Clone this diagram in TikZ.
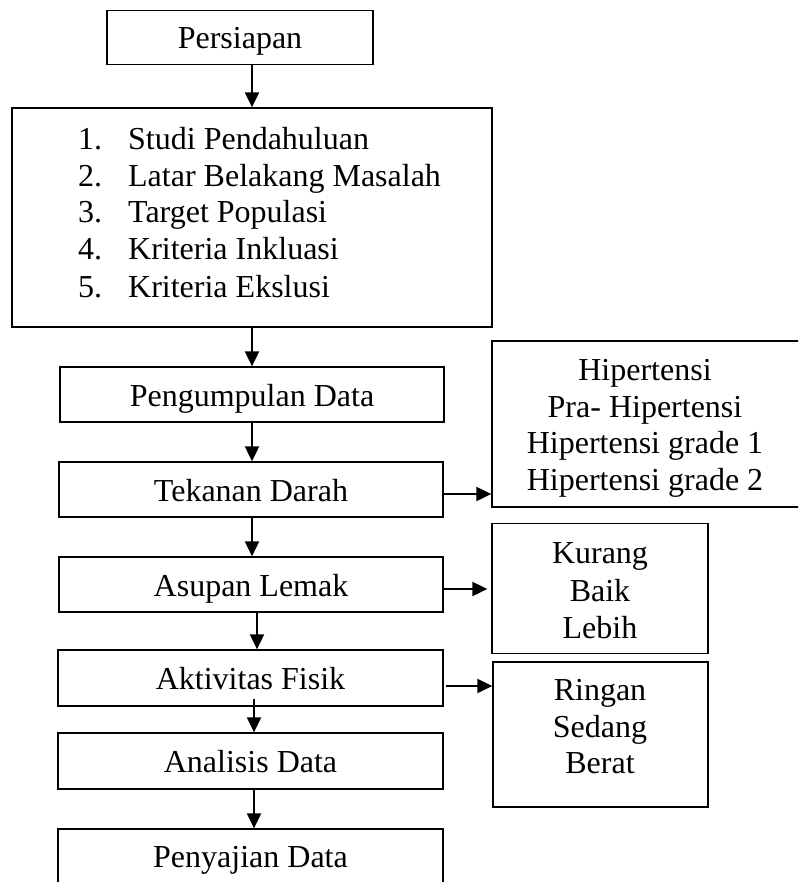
\documentclass[tikz,border=0pt]{standalone}
\usepackage{fontspec}
\setmainfont{Liberation Serif}
\usetikzlibrary{arrows.meta,calc}
\begin{document}
\begin{tikzpicture}[x=1pt,y=-1pt,
  box/.style={draw,line width=1.3pt,rectangle,inner sep=0pt},
  txt/.style={font=\fontsize{32}{36.7}\selectfont,inner sep=0pt},
  onel/.style={box,txt,text height=23pt,text depth=0pt},
  ln/.style={txt,anchor=base},
  arr/.style={line width=2pt,-{Triangle[length=15pt,width=14pt]}}]
\useasboundingbox (0,0) rectangle (798,882);
\begin{scope}
\clip (0,0) rectangle (798,882);
% main column
\node[onel,minimum width=266,minimum height=54] (persiapan) at (240,37.5) {Persiapan};
\node[box,minimum width=480,minimum height=219] (list) at (252,217.5) {};
\node[txt,anchor=base west] (l1) at (78,150) {\makebox[50pt][l]{1.}Studi Pendahuluan};
\node[txt,anchor=base west] (l2) at (78,187) {\makebox[50pt][l]{2.}Latar Belakang Masalah};
\node[txt,anchor=base west] (l3) at (78,223) {\makebox[50pt][l]{3.}Target Populasi};
\node[txt,anchor=base west] (l4) at (78,260) {\makebox[50pt][l]{4.}Kriteria Inkluasi};
\node[txt,anchor=base west] (l5) at (78,297) {\makebox[50pt][l]{5.}Kriteria Ekslusi};
\node[onel,minimum width=384,minimum height=55] (pengumpulan) at (252,394.5) {Pengumpulan Data};
\node[onel,minimum width=384,minimum height=55] (tekanan) at (251,489.5) {Tekanan Darah};
\node[onel,minimum width=384,minimum height=55] (asupan) at (251,584.5) {Asupan Lemak};
\node[onel,minimum width=385,minimum height=56] (aktivitas) at (250.5,678) {Aktivitas Fisik};
\node[onel,minimum width=385,minimum height=56] (analisis) at (250.5,761) {Analisis Data};
\node[onel,minimum width=385,minimum height=54] (penyajian) at (250.5,856) {Penyajian Data};
% side boxes
\node[box,minimum width=308,minimum height=166] (hip) at (646,424) {};
\node[ln] (h1) at (645,380) {Hipertensi};
\node[ln] (h2) at (645,417) {Pra- Hipertensi};
\node[ln] (h3) at (645,453) {Hipertensi grade 1};
\node[ln] (h4) at (645,490) {Hipertensi grade 2};
\node[box,minimum width=216,minimum height=130] (kurang) at (600,588.5) {};
\node[ln] (k1) at (600,563) {Kurang};
\node[ln] (k2) at (600,601) {Baik};
\node[ln] (k3) at (600,638) {Lebih};
\node[box,minimum width=215,minimum height=145] (ringan) at (600.5,734.5) {};
\node[ln] (r1) at (600,700) {Ringan};
\node[ln] (r2) at (600,737) {Sedang};
\node[ln] (r3) at (600,773) {Berat};
% vertical arrows
\draw[arr] (list.north |- persiapan.south) -- (list.north);
\draw[arr] (list.south) -- (pengumpulan.north);
\draw[arr] (pengumpulan.south) -- (pengumpulan.south |- tekanan.north);
\draw[arr] (tekanan.south -| pengumpulan.south) -- (asupan.north -| pengumpulan.south);
\draw[arr] ([xshift=6pt]asupan.south) -- ([xshift=6pt]asupan.south |- aktivitas.north);
\draw[arr] ([xshift=3.5pt,yshift=8pt]aktivitas.south) -- ([xshift=3.5pt]analisis.north);
\draw[arr] ([xshift=3.5pt]analisis.south) -- ([xshift=3.5pt]penyajian.north);
% side arrows
\draw[arr] ([yshift=-4.5pt]tekanan.east) -- ([yshift=-4.5pt]tekanan.east -| hip.west);
\draw[arr] ([yshift=-4.5pt,xshift=-2pt]asupan.east) -- ([yshift=-4.5pt,xshift=-4pt]asupan.east -| kurang.west);
\draw[arr] ([yshift=-8pt,xshift=2pt]aktivitas.east) -- ([yshift=-8pt]aktivitas.east -| ringan.west);
\end{scope}
\end{tikzpicture}
\end{document}
